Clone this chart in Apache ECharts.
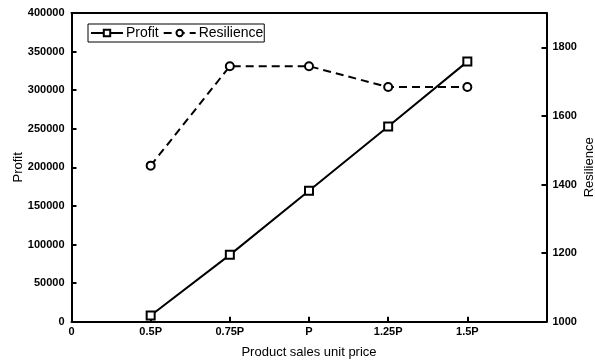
<!DOCTYPE html>
<html><head><meta charset="utf-8">
<script src="https://cdn.jsdelivr.net/npm/echarts@6/dist/echarts.min.js"></script>
<style>html,body{margin:0;padding:0;background:#fff}#c{width:595px;height:364px}</style>
</head><body><div id="c"></div>
<script>
const xLabels = ['0', '0.5P', '0.75P', 'P', '1.25P', '1.5P', ''];
const categories = ['0.5P', '0.75P', 'P', '1.25P', '1.5P'];
const profit = [8000, 86600, 169700, 253000, 337000];
const resilience = [1455, 1745, 1745, 1684, 1684];

const pos = c => xLabels.indexOf(c);
const font = 'Liberation Sans, Arial, sans-serif';
const chart = echarts.init(document.getElementById('c'));
chart.setOption({
  animation: false,
  backgroundColor: '#fff',
  grid: {left: 71.5, right: 48.5, top: 13, bottom: 42.3, containLabel: false, outerBoundsMode: 'none'},
  legend: {
    left: 88, top: 24, width: 175, height: 18,
    padding: [2, 1, 2, 2], itemGap: 4, itemWidth: 32, itemHeight: 8,
    borderColor: '#000', borderWidth: 1,
    textStyle: {fontFamily: font, fontSize: 14, color: '#000', padding: [0, 0, 0, -2]},
    data: ['Profit', 'Resilience']
  },
  xAxis: [{
    type: 'value', min: 0, max: 6, interval: 1,
    name: 'Product sales unit price', nameLocation: 'middle', nameGap: 24, nameMoveOverlap: false,
    nameTextStyle: {fontFamily: font, fontSize: 13, color: '#000'},
    axisLine: {onZero: false, lineStyle: {color: '#000', width: 2}},
    axisTick: {inside: true, length: 5, lineStyle: {color: '#000', width: 2}},
    axisLabel: {fontFamily: font, fontSize: 11, fontWeight: 'bold', color: '#000', margin: 5,
      formatter: v => xLabels[Math.round(v)] || ''},
    splitLine: {show: false}
  }, {
    type: 'value', min: 0, max: 6, position: 'top',
    axisLine: {show: true, onZero: false, lineStyle: {color: '#000', width: 2}},
    axisTick: {show: false}, axisLabel: {show: false}, splitLine: {show: false}
  }],
  yAxis: [{
    type: 'value', min: 0, max: 400000, interval: 50000, position: 'left',
    name: 'Profit', nameLocation: 'middle', nameGap: 47, nameMoveOverlap: false,
    nameTextStyle: {fontFamily: font, fontSize: 13, color: '#000'},
    axisLine: {show: true, onZero: false, lineStyle: {color: '#000', width: 2}},
    axisTick: {show: true, inside: true, length: 5, lineStyle: {color: '#000', width: 2}},
    axisLabel: {fontFamily: font, fontSize: 11, fontWeight: 'bold', color: '#000', margin: 7,
      formatter: v => String(v)},
    splitLine: {show: false}
  }, {
    type: 'value', min: 1000, max: 1900, interval: 200, position: 'right',
    name: 'Resilience', nameLocation: 'middle', nameGap: 36, nameRotate: 90, nameMoveOverlap: false,
    nameTextStyle: {fontFamily: font, fontSize: 13, color: '#000'},
    axisLine: {show: true, onZero: false, lineStyle: {color: '#000', width: 2}},
    axisTick: {show: true, inside: true, length: 5, lineStyle: {color: '#000', width: 2}},
    axisLabel: {fontFamily: font, fontSize: 11, fontWeight: 'bold', color: '#000', margin: 6,
      formatter: v => v === 1900 ? '' : String(v)},
    splitLine: {show: false}
  }],
  series: [{
    name: 'Profit', type: 'line', yAxisIndex: 0,
    data: categories.map((c, i) => [pos(c), profit[i]]),
    symbol: 'emptyRect', symbolSize: 8,
    lineStyle: {color: '#000', width: 2},
    itemStyle: {color: '#000', borderColor: '#000', borderWidth: 2}
  }, {
    name: 'Resilience', type: 'line', yAxisIndex: 1,
    data: categories.map((c, i) => [pos(c), resilience[i]]),
    symbol: 'emptyCircle', symbolSize: 8,
    lineStyle: {color: '#000', width: 2, type: [8, 5]},
    itemStyle: {color: '#000', borderColor: '#000', borderWidth: 2}
  }]
});
</script></body></html>
